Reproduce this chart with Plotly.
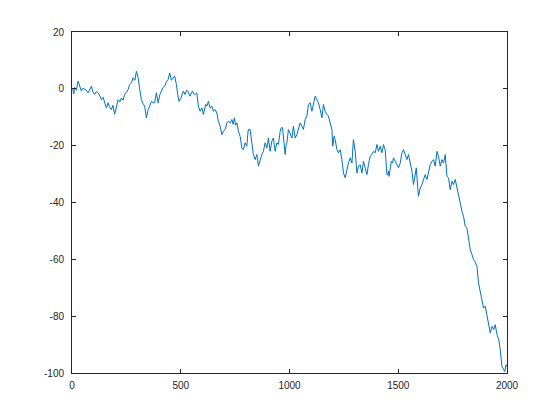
import plotly.graph_objects as go

steps = [3, 8, 12, 20, 28, 35, 43, 50, 58, 66, 74, 81, 89, 96, 104, 112, 120, 128, 135, 143,
         150, 158, 166, 173, 181, 188, 196, 204, 212, 220, 227, 235, 242, 250, 258, 265, 273, 281, 289, 296,
         304, 311, 319, 327, 334, 342, 350, 358, 365, 373, 380, 388, 396, 404, 411, 419, 426, 434, 442, 449,
         457, 465, 472, 480, 482, 487, 492, 501, 508, 512, 520, 527, 532, 538, 543, 549, 554, 560, 566, 574,
         578, 581, 589, 597, 604, 610, 615, 621, 627, 635, 643, 650, 658, 666, 673, 681, 689, 696, 704, 712,
         719, 727, 735, 741, 747, 752, 758, 765, 773, 781, 788, 796, 804, 808, 811, 819, 823, 827, 834, 842,
         850, 857, 865, 873, 880, 888, 896, 903, 911, 919, 926, 934, 942, 949, 957, 962, 968, 972, 977, 980,
         984, 988, 995, 1003, 1011, 1018, 1026, 1034, 1041, 1049, 1057, 1064, 1072, 1080, 1087, 1095, 1103, 1110, 1118, 1126,
         1133, 1141, 1149, 1156, 1164, 1172, 1179, 1187, 1195, 1199, 1205, 1210, 1218, 1225, 1233, 1241, 1248, 1256, 1264, 1271,
         1279, 1287, 1294, 1302, 1310, 1317, 1325, 1333, 1340, 1348, 1356, 1363, 1371, 1379, 1386, 1394, 1402, 1409, 1417, 1425,
         1432, 1440, 1445, 1448, 1452, 1455, 1458, 1463, 1468, 1474, 1478, 1486, 1494, 1501, 1509, 1517, 1524, 1532, 1540, 1547,
         1555, 1563, 1570, 1578, 1583, 1589, 1593, 1601, 1609, 1616, 1624, 1632, 1639, 1647, 1655, 1662, 1670, 1678, 1685, 1693,
         1701, 1708, 1716, 1724, 1731, 1739, 1747, 1754, 1762, 1770, 1777, 1785, 1793, 1800, 1808, 1816, 1823, 1831, 1839, 1846,
         1854, 1862, 1869, 1877, 1885, 1892, 1900, 1908, 1915, 1923, 1931, 1939, 1946, 1954, 1962, 1969, 1977, 1984, 1990, 1995, 2000]

values = [0.3, -1.8, 0.5, -0.5, 2.7, 0.8, -0.8, 0.2, -0.25, -0.5, -1.4, -0.3, 0.9, -1.0, -2.0, -0.9, -1.4, -2.5, -3.8, -3.0,
          -4.9, -6.7, -4.9, -6.5, -7.3, -5.8, -9.0, -6.5, -3.8, -4.6, -3.2, -4.0, -2.0, -1.2, -0.25, 1.5, 2.1, 3.9, 3.0, 6.2,
          3.9, 0.0, -3.8, -5.2, -6.1, -10.2, -7.3, -6.0, -4.4, -4.9, -4.9, -1.4, -4.9, -2.0, -0.8, 0.5, 0.9, 2.5, 3.3, 5.6,
          3.0, 3.9, 4.5, 1.5, -0.25, -2.5, -4.4, -3.2, -1.5, -0.8, -2.0, -0.5, -0.8, -1.8, -2.6, -1.5, -0.8, -1.8, -2.0, -1.4,
          -3.5, -6.1, -7.9, -6.7, -9.0, -6.5, -5.5, -6.0, -4.4, -6.7, -6.1, -7.9, -7.3, -8.5, -11.4, -13.2, -16.1, -14.9, -14.3, -12.0,
          -11.4, -12.0, -10.8, -12.5, -10.2, -12.8, -12.0, -14.9, -16.7, -20.8, -21.4, -19.0, -20.2, -16.0, -14.3, -14.3, -17.0, -19.0, -23.1, -24.9,
          -23.1, -27.2, -24.9, -23.1, -22.0, -19.0, -20.8, -17.3, -22.0, -18.4, -17.3, -22.0, -19.0, -19.6, -15.0, -13.7, -13.7, -18.0, -21.4, -23.1,
          -20.0, -19.0, -14.3, -16.1, -17.3, -13.2, -17.3, -16.1, -14.3, -12.0, -13.2, -14.3, -10.8, -9.6, -5.5, -4.9, -7.9, -5.5, -2.6, -3.8,
          -4.9, -7.3, -10.2, -5.5, -7.9, -9.0, -9.6, -12.0, -14.3, -20.2, -16.7, -17.9, -21.4, -22.5, -21.4, -24.9, -29.6, -31.3, -28.4, -26.1,
          -24.3, -26.1, -17.9, -22.0, -29.6, -27.2, -26.7, -29.6, -25.5, -27.8, -30.2, -26.7, -23.7, -23.1, -22.0, -22.5, -19.6, -22.0, -20.2, -22.5,
          -19.6, -21.5, -26.7, -30.2, -30.2, -29.0, -30.8, -28.4, -25.5, -26.1, -24.3, -25.5, -26.7, -27.8, -26.1, -22.5, -21.4, -23.1, -24.9, -23.1,
          -26.1, -29.0, -33.7, -30.8, -27.8, -34.3, -37.8, -34.9, -33.7, -32.0, -30.2, -31.9, -29.0, -26.7, -25.5, -24.9, -27.2, -22.0, -23.7, -27.2,
          -24.9, -26.1, -23.1, -30.8, -31.3, -35.5, -32.5, -33.7, -31.9, -34.9, -37.8, -39.5, -43.1, -44.8, -48.4, -49.0, -53.1, -56.6, -58.3, -60.1,
          -61.0, -62.5, -68.3, -71.3, -73.6, -77.1, -76.5, -79.5, -82.4, -85.9, -83.6, -84.7, -83.0, -86.5, -88.3, -91.8, -97.7, -98.8, -99.5, -97.1, -97.7]

x_ticks = [0, 500, 1000, 1500, 2000]
y_ticks = [-100, -80, -60, -40, -20, 0, 20]

fig = go.Figure()
fig.add_trace(go.Scatter(x=steps, y=values, mode="lines",
                         line=dict(color="#0072bd", width=1)))

axis_common = dict(showline=True, linecolor="#262626", linewidth=1, mirror="ticks",
                   ticks="inside", ticklen=4, tickcolor="#262626", showgrid=False,
                   zeroline=False, tickfont=dict(family="Liberation Sans, Arial", size=10, color="#262626"))

fig.update_xaxes(range=[0, 2000], tickvals=x_ticks, ticktext=[str(v) for v in x_ticks],
                 ticklabelstandoff=3, **axis_common)
fig.update_yaxes(range=[-100, 20], tickvals=y_ticks, ticktext=[str(v) for v in y_ticks],
                 ticklabelstandoff=5, **axis_common)

fig.update_layout(width=552, height=412, margin=dict(l=64, r=53, t=24, b=47),
                  paper_bgcolor="white", plot_bgcolor="white", showlegend=False)

fig.write_html("out.html")
